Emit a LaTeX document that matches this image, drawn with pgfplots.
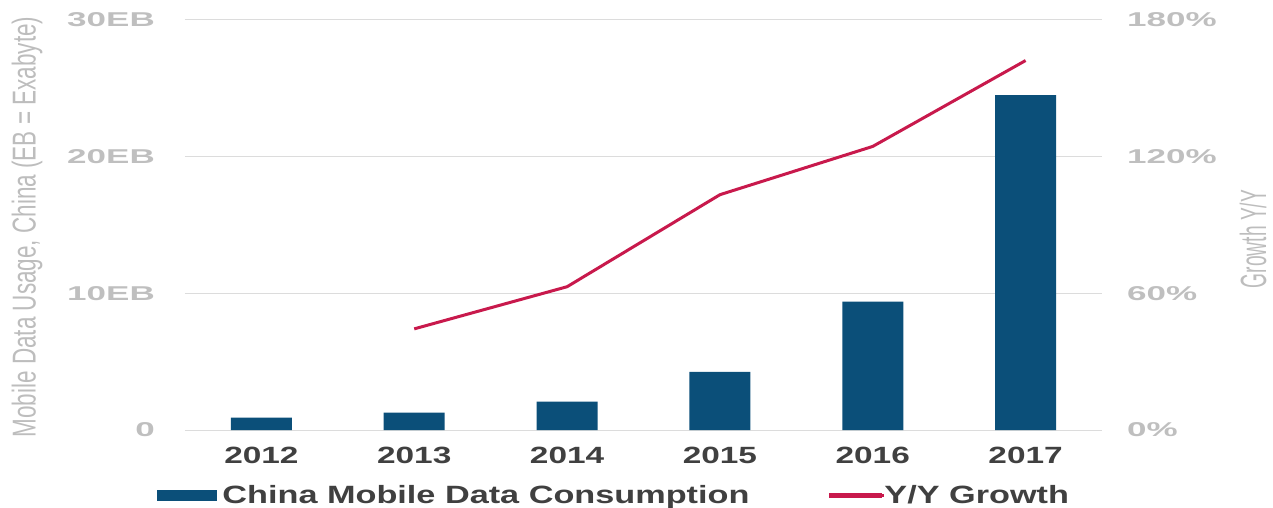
\documentclass[border=0pt]{standalone}
\usepackage{pgfplots}
\pgfplotsset{compat=1.18}
\usepackage{pgfplotstable}
\usepackage{graphicx}
\usepackage{fontspec}
\setmainfont{Liberation Sans}
\definecolor{barblue}{HTML}{0B4F79}
\definecolor{linered}{HTML}{C8194C}
\definecolor{tickgrey}{HTML}{BFBFBF}
\definecolor{titlegrey}{HTML}{BDBDBD}
\definecolor{labgrey}{HTML}{404040}
\definecolor{gridgrey}{HTML}{DCDCDC}
\newcommand\tk[1]{\scalebox{1.75}[1]{#1}}
\newcommand\cat[1]{\scalebox{1.42}[1]{#1}}
\newcommand\lgd[1]{\scalebox{1.37}[1]{#1}}

\pgfplotstableread{
x year val
0 2012 0.9
1 2013 1.27
2 2014 2.07
3 2015 4.25
4 2016 9.4
5 2017 24.5
}\bars

\pgfplotstableread{
x year g
1 2013 44.4
2 2014 62.9
3 2015 103.3
4 2016 124.5
5 2017 162.2
}\growth

\begin{document}
\begin{tikzpicture}
\begin{axis}[name=ax1, scale only axis, width=917bp, height=410bp,
  xmin=-0.5, xmax=5.5, ymin=0, ymax=30,
  xtick={0,...,5},
  xticklabels={\cat{2012},\cat{2013},\cat{2014},\cat{2015},\cat{2016},\cat{2017}},
  ytick={0,10,20,30},
  yticklabels={\tk{0},\tk{10EB},\tk{20EB},\tk{30EB}},
  axis line style={draw=none}, major tick length=0,
  ymajorgrids, grid style={gridgrey, line width=1bp},
  yticklabel style={font=\fontsize{20bp}{20bp}\selectfont\bfseries, text=tickgrey, inner sep=0pt, anchor=east, xshift=-30bp},
  xticklabel style={font=\fontsize{23.5bp}{23.5bp}\selectfont\bfseries, text=labgrey, inner sep=0pt, anchor=base, yshift=-33bp},
  ylabel={\scalebox{1}[1.47]{Mobile Data Usage, China (EB = Exabyte)}},
  ylabel style={font=\fontsize{22.5bp}{22.5bp}\selectfont, text=titlegrey, at={(rel axis cs:-0.1723,0.495)}, anchor=center, inner sep=0pt},
  clip=false]
\addplot[ybar, bar width=61bp, fill=barblue, draw=none] table[x=x,y=val]{\bars};
\end{axis}
\begin{axis}[name=ax2, scale only axis, width=917bp, height=410bp,
  xmin=-0.5, xmax=5.5, ymin=0, ymax=180,
  axis x line=none, axis y line*=right, axis line style={draw=none}, major tick length=0,
  ytick={0,60,120,180},
  yticklabels={\tk{0\%},\tk{60\%},\tk{120\%},\tk{180\%}},
  yticklabel style={font=\fontsize{20bp}{20bp}\selectfont\bfseries, text=tickgrey, inner sep=0pt, anchor=west, xshift=25bp},
  ylabel={\scalebox{1}[1.9]{Growth Y/Y}},
  ylabel style={font=\fontsize{19.2bp}{19.2bp}\selectfont, text=titlegrey, at={(rel axis cs:1.1647,0.466)}, anchor=center, inner sep=0pt},
  legend style={at={(rel axis cs:-0.0305,-0.16)}, anchor=west, draw=none, fill=none, inner sep=0pt, outer sep=0pt,
    legend columns=2, font=\fontsize{25bp}{25bp}\selectfont\bfseries, text=labgrey, nodes={inner sep=0pt},
    /tikz/every odd column/.append style={column sep=2bp},
    /tikz/every even column/.append style={column sep=80bp}},
  legend cell align=left]
\addlegendimage{legend image code/.code={\fill[barblue] (0bp,-5bp) rectangle (59bp,5bp); \path (63bp,0bp);}}
\addlegendentry{\lgd{China Mobile Data Consumption}}
\addplot[linered, line width=3bp, legend image code/.code={\path[use as bounding box] (0bp,-1bp) rectangle (50bp,1bp); \draw[linered, line width=3bp] (0bp,0bp) -- (53bp,0bp);}] table[x=x,y=g]{\growth};
\addlegendentry{\lgd{Y/Y Growth}}
\end{axis}
\path ([shift={(-185bp,-78bp)}]ax1.south west) rectangle ([shift={(171bp,20bp)}]ax1.north east);
\end{tikzpicture}
\end{document}
